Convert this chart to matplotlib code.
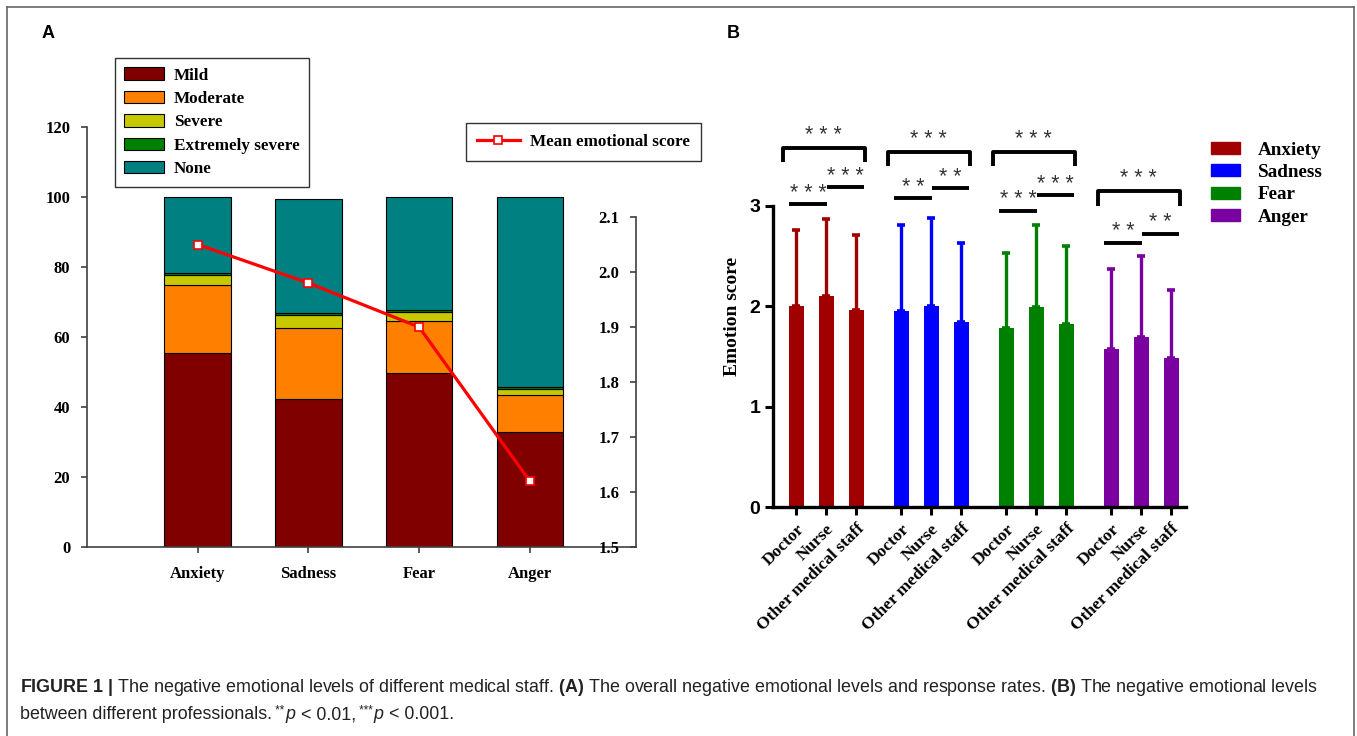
import numpy as np
import matplotlib
matplotlib.use("Agg")
import matplotlib.pyplot as plt
from matplotlib.patches import Patch
from matplotlib.lines import Line2D

# ---------------- data ----------------
emotions = ["Anxiety", "Sadness", "Fear", "Anger"]
levels = ["Mild", "Moderate", "Severe", "Extremely severe", "None"]
mild = [55.3, 42.3, 49.7, 32.9]
moderate = [19.5, 20.3, 14.9, 10.5]
severe = [2.9, 3.6, 2.6, 1.7]
extreme = [0.6, 0.8, 0.6, 0.6]
none = [21.7, 32.3, 32.2, 54.3]
mean_score = [2.05, 1.98, 1.90, 1.62]
level_colors = ["#800000", "#FF8000", "#C8C800", "#008000", "#008080"]

staff = ["Doctor", "Nurse", "Other medical staff"]
score_mean = {
    "Anxiety": [2.00, 2.10, 1.96],
    "Sadness": [1.95, 2.00, 1.84],
    "Fear": [1.78, 1.99, 1.82],
    "Anger": [1.57, 1.69, 1.48],
}
score_sd = {
    "Anxiety": [0.76, 0.77, 0.75],
    "Sadness": [0.86, 0.88, 0.79],
    "Fear": [0.75, 0.82, 0.78],
    "Anger": [0.80, 0.81, 0.68],
}
emotion_colors = ["#A00000", "#0000FF", "#008000", "#7A00A0"]
# significance: (overall bracket, doctor-nurse, nurse-other)
sig_overall = ["***", "***", "***", "***"]
sig_dn = ["***", "**", "***", "**"]
sig_no = ["***", "**", "***", "**"]
h_overall = [3.57, 3.53, 3.53, 3.14]
h_dn = [3.01, 3.07, 2.95, 2.63]
h_no = [3.18, 3.17, 3.10, 2.72]

W, H = 1357, 736
fig = plt.figure(figsize=(W / 100, H / 100), dpi=100)
SERIF = "Liberation Serif"
SANS = "Liberation Sans"

def fx(px):
    return px / W

def fy(py):
    return 1 - py / H

# ---------------- border ----------------
for (x0, y0, x1, y1) in [(7, 7, 1354, 7), (7, 7, 7, 736), (1354, 7, 1354, 736)]:
    fig.add_artist(Line2D([fx(x0), fx(x1)], [fy(y0), fy(y1)], color="#666666", lw=1.2,
                          transform=fig.transFigure))

# ---------------- panel A ----------------
FA = 12
axA = fig.add_axes([fx(87), fy(547), fx(636 - 87), (547 - 127) / H])
x = np.arange(len(emotions))
bottom = np.zeros(len(emotions))
for lab, vals, col in zip(levels, [mild, moderate, severe, extreme, none], level_colors):
    axA.bar(x, vals, 0.6, bottom=bottom, color=col, edgecolor="black", linewidth=0.8, label=lab)
    bottom += np.array(vals)
axA.set_xlim(-1.0, 3.96)
axA.set_ylim(0, 120)
axA.set_yticks(np.arange(0, 121, 20))
axA.set_xticks(x)
axA.set_xticklabels(emotions)
for s in ["top", "right"]:
    axA.spines[s].set_visible(False)
for s in ["left", "bottom"]:
    axA.spines[s].set_color("#404040")
    axA.spines[s].set_linewidth(1.2)
axA.tick_params(axis="both", colors="#404040", length=4, width=1.2, labelcolor="black")
axA.tick_params(axis="y", pad=8)
axA.tick_params(axis="x", pad=10)
for t in axA.get_xticklabels() + axA.get_yticklabels():
    t.set_fontfamily(SERIF)
    t.set_fontweight("bold")
    t.set_fontsize(FA)

axA2 = axA.twinx()
axA2.plot(x, mean_score, color="red", lw=2.3, marker="s", ms=5.5, mfc="white", mec="red",
          mew=1.2, label="Mean emotional score", zorder=5)
axA2.set_ylim(1.5, 1.5 + 420 / 550)
axA2.set_yticks(np.arange(1.5, 2.11, 0.1))
axA2.set_yticklabels([f"{v:.1f}" for v in np.arange(1.5, 2.11, 0.1)])
for s in ["top", "right", "bottom"]:
    axA2.spines[s].set_visible(False)
axA2.spines["left"].set_position(("axes", 1.0))
axA2.spines["left"].set_bounds(1.5, 2.1)
axA2.spines["left"].set_color("#404040")
axA2.spines["left"].set_linewidth(1.2)
axA2.yaxis.set_ticks_position("left")
axA2.yaxis.set_label_position("left")
axA2.tick_params(axis="y", colors="#404040", length=4, width=1.2, labelcolor="black", pad=8)
for t in axA2.get_yticklabels():
    t.set_fontfamily(SERIF)
    t.set_fontweight("bold")
    t.set_fontsize(FA)

legA = axA.legend(loc="upper left", bbox_to_anchor=(fx(115), fy(58)), bbox_transform=fig.transFigure,
                  prop={"family": SERIF, "weight": "bold", "size": 12.3},
                  frameon=True, fancybox=False, edgecolor="black", handlelength=2.3,
                  handleheight=0.75, labelspacing=0.42, borderpad=0.55, handletextpad=0.6,
                  borderaxespad=0)
legA.get_frame().set_linewidth(1.0)
legA2 = axA2.legend(loc="upper left", bbox_to_anchor=(fx(466), fy(123)), bbox_transform=fig.transFigure,
                    prop={"family": SERIF, "weight": "bold", "size": 12.3},
                    frameon=True, fancybox=False, edgecolor="black", handlelength=2.5,
                    borderpad=0.65, handletextpad=0.6, borderaxespad=0)
legA2.get_frame().set_linewidth(1.0)

fig.text(fx(42), fy(33), "A", fontfamily=SANS, fontweight="bold", fontsize=13, va="center")

# ---------------- panel B ----------------
axB = fig.add_axes([fx(773), fy(507), fx(413), 3.8 * 100.5 / H])
xs = []
star_kw = dict(ha="center", va="center", fontsize=15.5, fontfamily=SANS, color="#333333")
for g, emo in enumerate(emotions):
    pos = np.arange(3) + g * 3.5
    xs.extend(pos)
    axB.bar(pos, score_mean[emo], 0.5, color=emotion_colors[g], label=emo, zorder=2)
    axB.errorbar(pos, score_mean[emo], yerr=[np.zeros(3), score_sd[emo]], fmt="none",
                 ecolor=emotion_colors[g], elinewidth=2.4, capsize=3, capthick=2.6, zorder=2)
    lw = 2.8
    y0 = h_overall[g]
    axB.plot([pos[0] - 0.45, pos[0] - 0.45, pos[2] + 0.3, pos[2] + 0.3],
             [y0 - 0.14, y0, y0, y0 - 0.14], color="black", lw=lw, solid_capstyle="butt",
             clip_on=False)
    axB.text((pos[0] + pos[2]) / 2 - 0.1, y0 + 0.13, " ".join(sig_overall[g]), **star_kw)
    axB.plot([pos[0] - 0.25, pos[1] + 0.02], [h_dn[g]] * 2, color="black", lw=lw,
             solid_capstyle="butt", clip_on=False)
    axB.text((pos[0] + pos[1]) / 2 - 0.1, h_dn[g] + 0.11, " ".join(sig_dn[g]), **star_kw)
    axB.plot([pos[1] + 0.02, pos[2] + 0.25], [h_no[g]] * 2, color="black", lw=lw,
             solid_capstyle="butt", clip_on=False)
    axB.text((pos[1] + pos[2]) / 2 + 0.15, h_no[g] + 0.11, " ".join(sig_no[g]), **star_kw)

axB.set_xlim(-0.77, 13.0)
axB.set_ylim(0, 3.8)
axB.set_yticks([0, 1, 2, 3])
axB.set_xticks(xs)
axB.set_xticklabels(staff * 4, rotation=45, ha="right", rotation_mode="anchor")
for s in ["top", "right"]:
    axB.spines[s].set_visible(False)
axB.spines["left"].set_bounds(0, 3)
for s in ["left", "bottom"]:
    axB.spines[s].set_linewidth(2.4)
axB.tick_params(axis="both", length=6, width=2.2)
axB.tick_params(axis="x", pad=4)
axB.tick_params(axis="y", pad=3)
for t in axB.get_xticklabels():
    t.set_fontfamily(SERIF)
    t.set_fontweight("bold")
    t.set_fontsize(12.5)
for t in axB.get_yticklabels():
    t.set_fontfamily(SANS)
    t.set_fontweight("bold")
    t.set_fontsize(14)
axB.set_ylabel("Emotion score", fontfamily=SERIF, fontweight="bold", fontsize=14, labelpad=6)

handles = [Patch(color=c) for c in emotion_colors]
fig.legend(handles, emotions, loc="upper left", bbox_to_anchor=(fx(1203), fy(134)),
           prop={"family": SERIF, "weight": "bold", "size": 13.8}, frameon=False,
           handlelength=1.55, handleheight=0.6, labelspacing=0.28, handletextpad=0.9,
           borderaxespad=0)

fig.text(fx(727), fy(33), "B", fontfamily=SANS, fontweight="bold", fontsize=13, va="center")

# ---------------- caption ----------------
CAP = 12.85
plt.rcParams["mathtext.fontset"] = "custom"
plt.rcParams["mathtext.rm"] = SANS
plt.rcParams["mathtext.bf"] = SANS + ":bold"
plt.rcParams["mathtext.it"] = SANS + ":italic"
line1 = (r"$\mathbf{FIGURE\ 1\ |}$ The negative emotional levels of different medical staff. "
         r"$\mathbf{(A)}$ The overall negative emotional levels and response rates. "
         r"$\mathbf{(B)}$ The negative emotional levels")
fig.text(fx(20), fy(688), line1, fontfamily=SANS, fontsize=CAP, va="center", color="#222222")

renderer = fig.canvas.get_renderer()
segments = [
    ("between different professionals.", {}, 0),
    (" **", {"fontsize": CAP * 0.65}, 5),
    ("p", {"fontstyle": "italic"}, 0),
    (" < 0.01,", {}, 0),
    (" ***", {"fontsize": CAP * 0.65}, 5),
    ("p", {"fontstyle": "italic"}, 0),
    (" < 0.001.", {}, 0),
]
xpix = 20
for txt, kw, dy in segments:
    props = dict(fontfamily=SANS, fontsize=CAP, va="baseline", color="#222222")
    props.update(kw)
    t = fig.text(fx(xpix), fy(719 - dy), txt, **props)
    bb = t.get_window_extent(renderer=renderer)
    xpix = bb.x1 + 0.5

fig.savefig("out.png", dpi=100)
